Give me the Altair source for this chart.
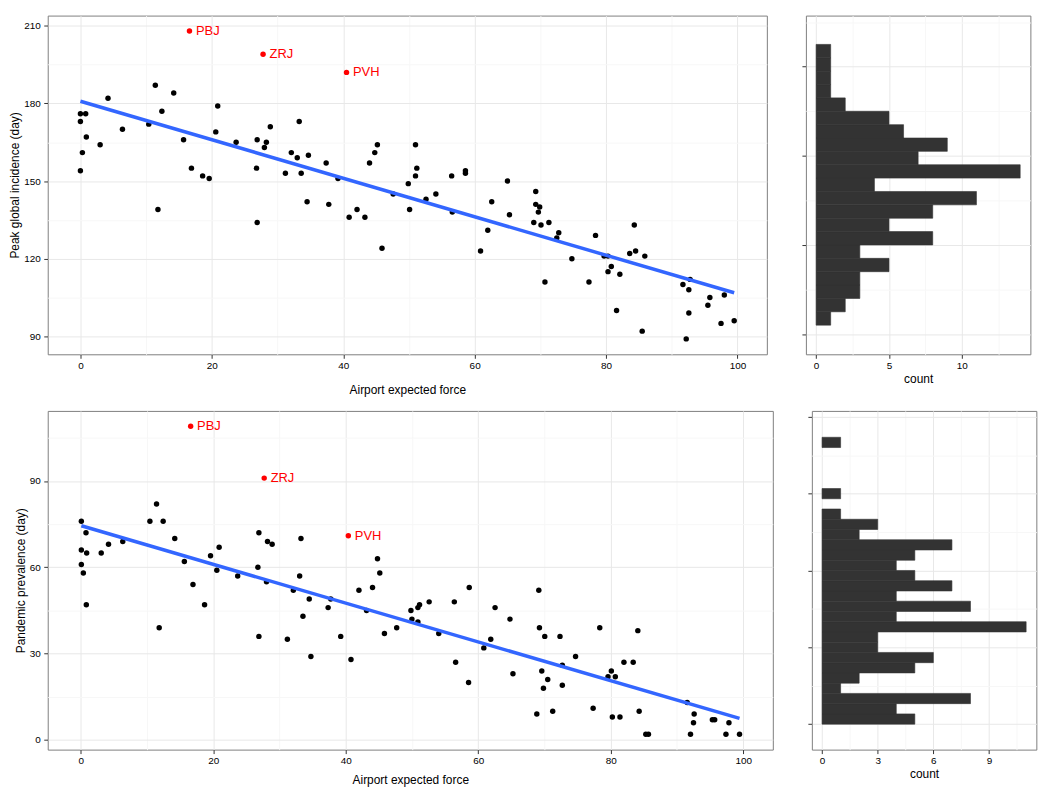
import altair as alt
import pandas as pd

# ---------------- data ----------------
# top panel: airport expected force vs peak global incidence (day)
top_x = [0, 0.8, 0, 0.9, 0.3, 0, 3.0, 4.2, 6.4, 10.4, 11.4, 11.8, 12.4, 14.2, 15.7, 16.9, 18.6, 19.6, 20.6, 20.9,
         23.7, 26.8, 26.9, 26.9, 28.3, 28.0, 28.9, 31.2, 32.1, 33.0, 33.3, 33.6, 34.5, 34.7, 37.4, 37.8, 39.2, 40.9,
         42.1, 43.3, 44.0, 44.8, 45.2, 45.9, 47.6,
         49.9, 50.1, 51.0, 51.2, 51.0, 52.6, 54.1, 56.5, 56.6, 58.6, 58.6, 60.9, 62.0, 62.6, 65.0, 65.3, 69.0, 69.3,
         69.3, 69.9, 69.7, 70.1, 70.7, 71.3, 72.8, 72.5, 74.8, 77.4, 78.4, 79.7, 80.3, 80.3, 80.8, 82.1, 81.6, 83.6,
         84.3, 84.5, 85.5, 85.9, 91.7, 92.8, 92.6, 92.6, 92.2, 95.5, 95.8, 97.5, 98.0, 99.5]
top_y = [176, 176, 173, 167, 161, 154, 164, 182, 170, 172, 187, 139, 177, 184, 166, 155, 152, 151, 169, 179,
         165, 155, 166, 134, 165, 163, 171, 153, 161, 159, 173, 153, 142, 160, 157, 141, 151, 136,
         139, 136, 157, 161, 164, 124, 145,
         149, 139, 164, 155, 152, 143, 145, 152, 138, 154, 153, 123, 131, 142, 150, 137, 134, 146,
         141, 140, 138, 133, 111, 134, 130, 128, 120, 111, 129, 121, 121, 115, 117, 114, 100, 122,
         133, 123, 92, 121, 110, 112, 108, 99, 89, 102, 105, 95, 106, 96]

# bottom panel: airport expected force vs pandemic prevalence (day)
bot_x = [0.1, 0.8, 0.1, 0.9, 0.1, 0.4, 0.85, 3.1, 4.2, 6.35, 10.45, 11.45, 11.85, 12.45, 14.2, 15.65, 16.95, 18.7,
         19.6, 20.55, 20.9, 23.7, 26.75, 26.9, 26.9, 28.2, 28.9, 28.05, 31.2, 32.1, 33.05, 33.25, 33.55, 34.5,
         34.75, 37.35, 37.75, 39.25, 40.8, 42.0, 43.15, 44.05, 44.8, 45.15, 45.85, 47.7,
         49.85, 50.0, 50.9, 51.15, 50.9, 52.6, 54.05, 56.4, 56.6, 58.65, 58.55, 60.85, 61.9, 62.55, 64.8, 65.25,
         69.15, 69.25, 70.05, 69.6, 70.5, 69.85, 68.85, 71.25, 72.35, 72.7, 72.7, 74.7, 77.35, 78.35, 79.6, 80.1,
         80.7, 80.25, 81.4, 82.0, 83.4, 84.1, 84.3, 85.3, 85.7, 91.55, 92.6, 92.5, 92.05, 95.35, 95.7, 97.85,
         97.4, 99.45]
bot_y = [76, 72, 66, 65, 61, 58, 47, 65, 68, 69, 76, 82, 39, 76, 70, 62, 54, 47,
         64, 59, 67, 57, 60, 72, 36, 69, 68, 55, 35, 52, 57, 70, 43, 49,
         29, 46, 49, 36, 28, 52, 45, 53, 63, 58, 37, 39,
         45, 42, 46, 47, 41, 48, 37, 48, 27, 53, 20, 32, 35, 46, 42, 23,
         52, 39, 36, 24, 21, 18, 9, 10, 36, 26, 19, 29, 11, 39, 22, 24,
         22, 8, 8, 27, 27, 38, 10, 2, 2, 13, 9, 6, 2, 7, 7, 6,
         2, 2]

# highlighted airports
hl_labels = ["PBJ", "ZRJ", "PVH"]
hl_top_x = [16.6, 27.8, 40.5]
hl_top_y = [208, 199, 192]
hl_bot_x = [16.6, 27.7, 40.4]
hl_bot_y = [109, 91, 71]

# histograms (counts per bin, from the lowest bin upwards)
top_hist_counts = [1, 2, 3, 3, 5, 3, 8, 5, 8, 11, 4, 14, 7, 9, 6, 5, 2, 1, 1, 1, 1]
top_hist_start, top_hist_width = 93.0, 4.5
bot_hist_counts = [5, 4, 8, 1, 2, 5, 6, 3, 3, 11, 4, 8, 4, 7, 5, 4, 5, 7, 2, 3, 1, 0, 1, 0, 0, 0, 0, 1]
bot_hist_start, bot_hist_width = 0.0, 4.0

# tick values
x_ticks = [0, 10, 20, 30, 40, 50, 60, 70, 80, 90, 100]
top_y_ticks = [90, 105, 120, 135, 150, 165, 180, 195, 210]
bot_y_ticks = [0, 15, 30, 45, 60, 75, 90, 105]
top_hist_x_ticks = [0, 2.5, 5, 7.5, 10, 12.5]
top_hist_y_ticks = [90, 105, 120, 135, 150, 165, 180, 195]
bot_hist_x_ticks = [0, 1.5, 3, 4.5, 6, 7.5, 9, 10.5]
bot_hist_y_ticks = [0, 15, 30, 45, 60, 75, 90, 105, 120]

# ---------------- styling ----------------
FONT = "Liberation Sans"
MAJOR = "#e8e8e8"
MINOR = "#f7f7f7"
TICK = "#333333"


def gaxis(values, mod, title=None, labels=True, title_pad=2):
    test = f"datum.value % {mod} === 0"
    kw = dict(
        values=values,
        grid=True,
        gridColor={"condition": {"test": test, "value": MAJOR}, "value": MINOR},
        gridWidth=1,
        tickColor={"condition": {"test": test, "value": TICK}, "value": "transparent"},
        ticks=True,
        labels=labels,
        labelOverlap=False,
        labelFlush=False,
        titlePadding=title_pad,
    )
    if labels:
        kw["labelExpr"] = f"{test} ? datum.label : ''"
    kw["title"] = title if title is not None else ""
    return alt.Axis(**kw)


def scatter(xs, ys, hx, hy, ydomain, yticks, ytitle, width, xtitle_pad):
    df = pd.DataFrame({"x": xs, "y": ys})
    hl = pd.DataFrame({"x": hx, "y": hy, "label": hl_labels})
    alldf = pd.concat([df, hl[["x", "y"]]], ignore_index=True)
    X = alt.X("x:Q", scale=alt.Scale(domain=[-4.975, 104.475], nice=False, zero=False),
              axis=gaxis(x_ticks, 20, "Airport expected force", title_pad=xtitle_pad))
    Y = alt.Y("y:Q", scale=alt.Scale(domain=ydomain, nice=False, zero=False),
              axis=gaxis(yticks, 30, ytitle, title_pad=2))
    pts = alt.Chart(df).mark_circle(size=30, color="black", opacity=1).encode(x=X, y=Y)
    hpts = alt.Chart(hl).mark_circle(size=30, color="#FF0000", opacity=1).encode(x=X, y=Y)
    htxt = alt.Chart(hl).mark_text(align="left", baseline="middle", dx=6.5, fontSize=13,
                                   font=FONT, color="#FF0000").encode(x=X, y=Y, text="label:N")
    reg = (alt.Chart(alldf).transform_regression("x", "y")
           .mark_line(color="#3366FF", strokeWidth=3.5).encode(x=X, y=Y))
    return alt.layer(pts, reg, hpts, htxt).properties(width=width, height=341)


def hist(counts, start, width, xdomain, xticks, xmod, ydomain, yticks):
    lo = [start + width * i for i in range(len(counts))]
    hi = [start + width * (i + 1) for i in range(len(counts))]
    df = pd.DataFrame({"lo": lo, "hi": hi, "count": counts, "zero": [0] * len(counts)})
    df = df[df["count"] > 0]
    return alt.Chart(df).mark_rect(color="#333333", stroke="#333333", strokeWidth=0.6).encode(
        x=alt.X("count:Q", scale=alt.Scale(domain=xdomain, nice=False, zero=False),
                axis=gaxis(xticks, xmod, "count", title_pad=3)),
        x2="zero:Q",
        y=alt.Y("lo:Q", scale=alt.Scale(domain=ydomain, nice=False, zero=False),
                axis=gaxis(yticks, 30, None, labels=False)),
        y2="hi:Q",
    ).properties(width=226, height=341)


top_sc = scatter(top_x, top_y, hl_top_x, hl_top_y, [83.05, 213.95], top_y_ticks,
                 "Peak global incidence (day)", 724, 14)
bot_sc = scatter(bot_x, bot_y, hl_bot_x, hl_bot_y, [-3.35, 114.35], bot_y_ticks,
                 "Pandemic prevalence (day)", 730, 9)
top_h = hist(top_hist_counts, top_hist_start, top_hist_width, [-0.7, 14.7], top_hist_x_ticks, 5,
             [83.2, 197.2], top_hist_y_ticks)
bot_h = hist(bot_hist_counts, bot_hist_start, bot_hist_width, [-0.55, 11.55], bot_hist_x_ticks, 3,
             [-9.95, 122.3], bot_hist_y_ticks)

row1 = alt.hconcat(top_sc, top_h, spacing=33.3)
row2 = alt.hconcat(bot_sc, bot_h, spacing=33.3)

chart = (
    alt.vconcat(row1, row2, spacing=14)
    .properties(padding={"left": 0, "top": 4, "right": 5, "bottom": 0}, background="white")
    .configure_axis(labelFont=FONT, titleFont=FONT, labelFontSize=10, titleFontSize=12,
                    labelColor="black", titleColor="black", tickSize=4, domain=False,
                    minExtent=0, titleFontWeight="normal")
    .configure_axisX(labelPadding=2)
    .configure_axisY(labelPadding=3.5)
    .configure_view(stroke="#7f7f7f", strokeWidth=1)
)

chart.save("out.html", embed_options={"renderer": "svg", "actions": False})
